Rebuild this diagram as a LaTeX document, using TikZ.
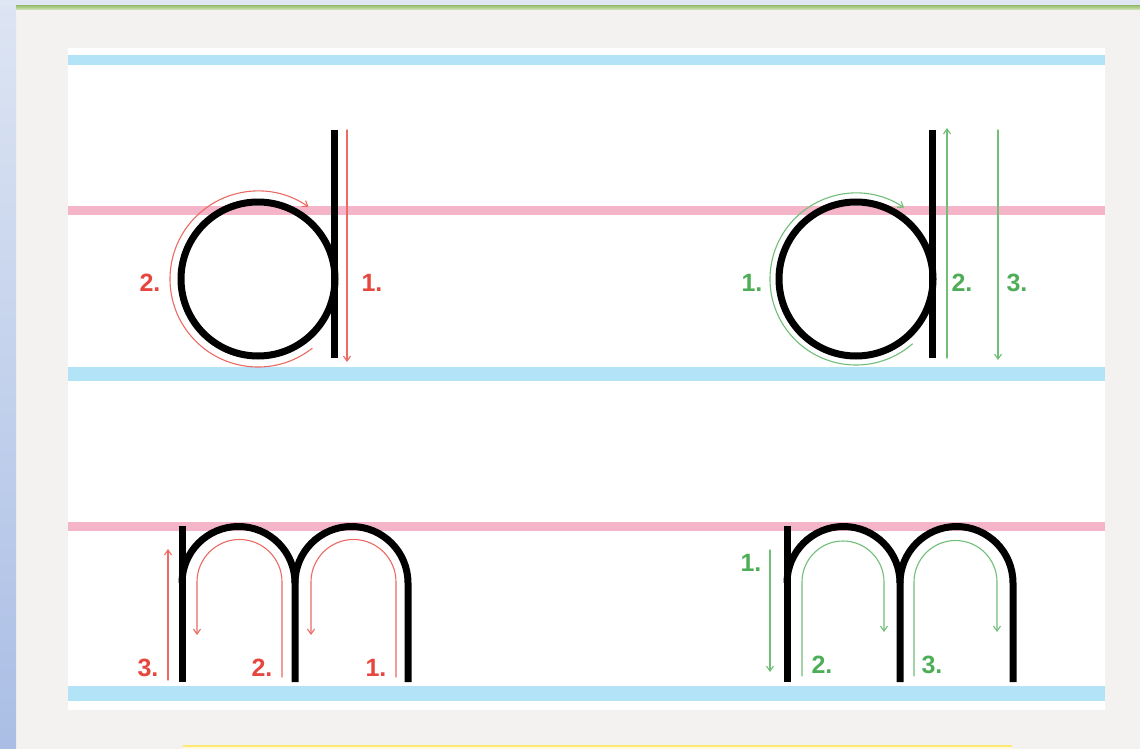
\documentclass[tikz,border=0pt]{standalone}
\usepackage{fontspec}
\setmainfont{Liberation Sans}
\usetikzlibrary{arrows.meta}
\definecolor{guideblue}{HTML}{B3E3F7}
\definecolor{guidepink}{HTML}{F4B5C8}
\definecolor{stepred}{HTML}{E6463D}
\definecolor{stepgreen}{HTML}{4EAE57}
\definecolor{pagegrey}{HTML}{F4F1F1}
\definecolor{stripblue}{HTML}{AABEE5}
\definecolor{striplight}{HTML}{DDE5F3}
\definecolor{topgrey}{HTML}{DFE7F4}
\definecolor{rulegreen}{HTML}{A0C378}
\definecolor{rulelight}{HTML}{D7E8BE}
\definecolor{noteyellow}{HTML}{FFE873}
\definecolor{notefill}{HTML}{FFFADE}
\begin{document}
\begin{tikzpicture}[x=1pt, y=-1pt, font=\fontsize{25}{28}\selectfont\bfseries, line join=round, line cap=round,
	>={Straight Barb[length=5pt,width=7pt]},
	letter/.style={line width=7pt, line cap=butt},
	redpath/.style={stepred!80!white, line width=1.1pt, ->},
	greenpath/.style={stepgreen!80!white, line width=1.1pt, ->},
	redlabel/.style={text=stepred, inner sep=0pt},
	greenlabel/.style={text=stepgreen, inner sep=0pt}]
	\useasboundingbox (0,0) rectangle (1140,749);
	% page and frame
	\fill[pagegrey] (0,0) rectangle (1140,749);
	\fill[top color=striplight, bottom color=stripblue] (0,0) rectangle (16,749);
	\fill[topgrey] (0,0) rectangle (1140,6);
	\fill[top color=rulegreen, bottom color=rulelight] (16,6) rectangle (1140,10);
	\fill[white] (68,48) rectangle (1105,710);
	\fill[notefill] (183,745) rectangle (1012,749);
	\draw[noteyellow, line width=2.5pt, line cap=butt] (183,746) -- (1012,746);
	% guide lines
	\draw[guideblue, line width=10pt, line cap=butt] (68,60) -- (1105,60);
	\draw[guidepink, line width=9pt, line cap=butt] (68,210) -- (1105,210);
	\draw[guideblue, line width=14pt, line cap=butt] (68,374) -- (1105,374);
	\draw[guidepink, line width=9pt, line cap=butt] (68,526) -- (1105,526);
	\draw[guideblue, line width=15pt, line cap=butt] (68,693) -- (1105,693);

	% letter d, red steps
	\coordinate (dL) at (258,279);
	\draw[letter] (dL) circle[radius=77];
	\draw[letter] (334,130) -- (334,358);
	\draw[redpath] (347,130) -- (347,362);
	\draw[redpath] (dL) ++(52:88) arc[start angle=52, end angle=305, radius=88];
	\node[redlabel] (dLone) at (372,283) {1.};
	\node[redlabel] (dLtwo) at (150,283) {2.};

	% letter d, green steps
	\coordinate (dR) at (856,279);
	\draw[letter] (dR) circle[radius=77];
	\draw[letter] (932,130) -- (932,358);
	\draw[greenpath] (dR) ++(49:86) arc[start angle=49, end angle=304, radius=86];
	\draw[greenpath] (947,358) -- (947,128);
	\draw[greenpath] (998,130) -- (998,360);
	\node[greenlabel] (dRone) at (752,283) {1.};
	\node[greenlabel] (dRtwo) at (962,283) {2.};
	\node[greenlabel] (dRthree) at (1017,283) {3.};

	% letter m, red steps
	\draw[letter] (182,526) -- (182,682);
	\draw[letter] (182,583) arc[start angle=180, end angle=360, radius=56.5] -- (295,682);
	\draw[letter] (295,583) arc[start angle=180, end angle=360, radius=56.5] -- (408,682);
	\draw[redpath] (168,680) -- (168,549);
	\draw[redpath] (282,677) -- (282,582) arc[start angle=0, end angle=-180, radius=42.5] -- (197,635);
	\draw[redpath] (396,677) -- (396,582) arc[start angle=0, end angle=-180, radius=42.5] -- (311,635);
	\node[redlabel] (mLthree) at (148,668) {3.};
	\node[redlabel] (mLtwo) at (262,668) {2.};
	\node[redlabel] (mLone) at (376,668) {1.};

	% letter m, green steps
	\draw[letter] (787,526) -- (787,682);
	\draw[letter] (787,583) arc[start angle=180, end angle=360, radius=56.5] -- (900,682);
	\draw[letter] (900,583) arc[start angle=180, end angle=360, radius=56.5] -- (1013,682);
	\draw[greenpath] (770,550) -- (770,672);
	\draw[greenpath] (802,676) -- (802,582) arc[start angle=180, end angle=360, radius=41] -- (884,632);
	\draw[greenpath] (914,676) -- (914,582) arc[start angle=180, end angle=360, radius=41.5] -- (997,632);
	\node[greenlabel] (mRone) at (751,563) {1.};
	\node[greenlabel] (mRtwo) at (822,665) {2.};
	\node[greenlabel] (mRthree) at (932,665) {3.};
\end{tikzpicture}
\end{document}
